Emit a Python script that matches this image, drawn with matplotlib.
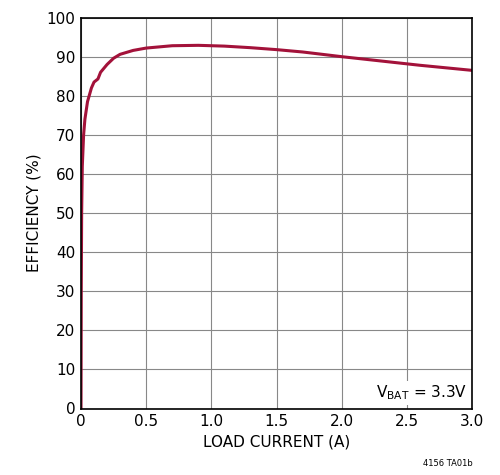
import matplotlib
matplotlib.use("Agg")
import matplotlib.pyplot as plt

load_current = [0.0, 0.002, 0.005, 0.01, 0.02, 0.03, 0.05, 0.08, 0.1, 0.13, 0.15, 0.17, 0.2, 0.25, 0.3, 0.4, 0.5, 0.7, 0.9, 1.1, 1.3, 1.5, 1.7, 2.0, 2.3, 2.6, 3.0]
efficiency = [0.0, 30.0, 50.0, 62.0, 70.0, 74.0, 78.5, 82.0, 83.5, 84.3, 86.0, 86.8, 88.0, 89.6, 90.6, 91.6, 92.2, 92.8, 92.9, 92.7, 92.3, 91.8, 91.2, 90.0, 88.9, 87.8, 86.5]

fig = plt.figure(figsize=(5.0, 4.75), dpi=100)
ax = fig.add_axes([0.162, 0.14, 0.782, 0.823])
ax.plot(load_current, efficiency, color="#a3123a", lw=2.2)
ax.set_xlim(0, 3.0)
ax.set_ylim(0, 100)
ax.set_xticks([0, 0.5, 1.0, 1.5, 2.0, 2.5, 3.0])
ax.set_xticklabels(["0", "0.5", "1.0", "1.5", "2.0", "2.5", "3.0"])
ax.set_yticks(range(0, 101, 10))
ax.grid(True, color="#888888", lw=0.8)
ax.tick_params(length=0, labelsize=11, pad=4)
for s in ax.spines.values():
    s.set_linewidth(1.2)
ax.set_xlabel("LOAD CURRENT (A)", fontsize=11)
ax.set_ylabel("EFFICIENCY (%)", fontsize=11)
ax.text(2.96, 4, r"V$_{\mathregular{BAT}}$ = 3.3V", ha="right", va="center", fontsize=11,
        bbox=dict(facecolor="white", edgecolor="none", pad=2))
fig.text(0.945, 0.02, "4156 TA01b", ha="right", fontsize=6)
fig.savefig("out.png")
